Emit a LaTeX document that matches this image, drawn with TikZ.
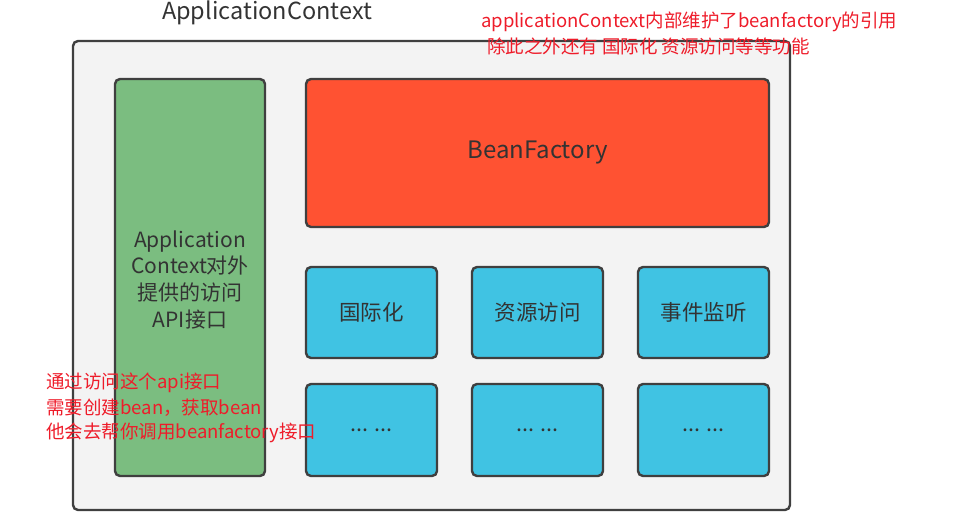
\documentclass[tikz,border=0pt]{standalone}
\usepackage{fontspec}
\setmainfont{Noto Sans CJK SC}
\usepackage{xcolor}
\definecolor{boxline}{HTML}{3F3F3F}
\definecolor{ctxfill}{HTML}{F3F3F3}
\definecolor{apigreen}{HTML}{7BBD80}
\definecolor{factoryred}{HTML}{FF5232}
\definecolor{modblue}{HTML}{40C3E3}
\definecolor{labelgray}{HTML}{333333}
\definecolor{notered}{HTML}{EE1C2A}

\begin{document}
\begin{tikzpicture}[x=1pt, y=-1pt,
    block/.style={draw=boxline, line width=2.4pt, rounded corners=5pt,
                  text=labelgray, align=center, inner sep=0pt,
                  font=\fontsize{21.5}{28}\selectfont},
    note/.style={text=notered, anchor=west, inner sep=0pt,
                 font=\fontsize{18.5}{22}\selectfont}]

  \useasboundingbox (0,0) rectangle (975,519);

  % Outer container
  \node[block, fill=ctxfill, minimum width=717pt, minimum height=469pt] (ctx) at (431.5,275.5) {};
  \node[text=labelgray, inner sep=0pt, font=\fontsize{23.5}{28}\selectfont] (ctxname) at (267,13) {ApplicationContext};

  % API column
  \node[block, fill=apigreen, minimum width=150pt, minimum height=397pt] (api) at (190,277.5) {};
  \node[text=labelgray, align=center, font=\fontsize{21}{27}\selectfont] (apitext) at (190,280) {Application\\Context对外\\提供的访问\\API接口};

  % BeanFactory
  \node[block, fill=factoryred, minimum width=463pt, minimum height=148pt,
        font=\fontsize{24}{28}\selectfont] (factory) at (537.5,153) {BeanFactory};

  % Feature boxes, first row
  \node[block, fill=modblue, minimum width=131pt, minimum height=91pt] (i18n) at (371.5,312.5) {国际化};
  \node[block, fill=modblue, minimum width=131pt, minimum height=91pt] (res) at (537.5,312.5) {资源访问};
  \node[block, fill=modblue, minimum width=131pt, minimum height=91pt] (event) at (703.5,312.5) {事件监听};

  % Feature boxes, second row
  \node[block, fill=modblue, minimum width=131pt, minimum height=92pt] (more1) at (371.5,430) {... ...};
  \node[block, fill=modblue, minimum width=131pt, minimum height=92pt] (more2) at (537.5,430) {... ...};
  \node[block, fill=modblue, minimum width=131pt, minimum height=92pt] (more3) at (703.5,430) {... ...};

  % Notes
  \node[note] (topnote1) at (481,22) {applicationContext内部维护了beanfactory的引用};
  \node[note] (topnote2) at (487,46) {除此之外还有 国际化 资源访问等等功能};
  \node[note] (apinote1) at (46,383) {通过访问这个api接口};
  \node[note] (apinote2) at (46,408) {需要创建bean，获取bean};
  \node[note] (apinote3) at (46,433) {他会去帮你调用beanfactory接口};
\end{tikzpicture}
\end{document}
